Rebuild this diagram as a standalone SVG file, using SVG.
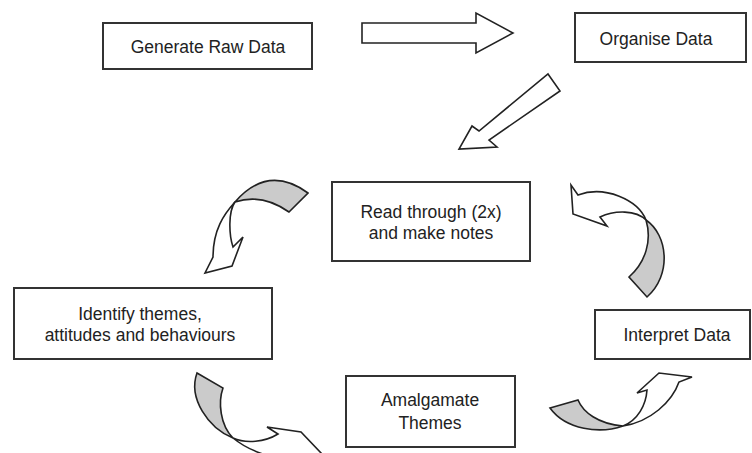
<svg xmlns="http://www.w3.org/2000/svg" width="752" height="453" viewBox="0 0 752 453">
<style>
.box{fill:#fff;stroke:#333;stroke-width:2}
.lbl{font-family:"Liberation Sans",Arial,sans-serif;font-size:17.5px;fill:#222;text-anchor:middle}
.arw{fill:#fff;stroke:#222;stroke-width:1.6;stroke-linejoin:miter}
.back{fill:#cbcbcb;stroke:#222;stroke-width:1.6;stroke-linejoin:miter}
</style>
<rect width="752" height="453" fill="#fff"/>
<g id="n-generate"><rect class="box" x="103" y="23" width="209" height="46"/><text class="lbl" x="208" y="53">Generate Raw Data</text></g>
<g id="n-organise"><rect class="box" x="575" y="13" width="171" height="49"/><text class="lbl" x="656" y="45">Organise Data</text></g>
<g id="n-read"><rect class="box" x="332" y="182" width="198" height="79"/><text class="lbl" x="431" y="218">Read through (2x)</text><text class="lbl" x="431" y="239">and make notes</text></g>
<g id="n-identify"><rect class="box" x="14" y="288" width="258" height="71"/><text class="lbl" x="140" y="320">Identify themes,</text><text class="lbl" x="140" y="341">attitudes and behaviours</text></g>
<g id="n-interpret"><rect class="box" x="595" y="310" width="155" height="49"/><text class="lbl" x="677" y="341">Interpret Data</text></g>
<g id="n-amalgamate"><rect class="box" x="346" y="376" width="169" height="71"/><text class="lbl" x="430" y="406">Amalgamate</text><text class="lbl" x="430" y="429">Themes</text></g>
<g id="connectors">
<polygon class="arw" points="362,23 476,23 476,13 513,33 476,53 476,43 362,43"/>
<polygon class="arw" points="548,74 560,91 489,140 497,147 459,149 472,126 479,131"/>
<path class="back" d="M235,202 Q268,164 308,193 L289,212 Q262,193 235,202 Z"/>
<path class="arw" d="M235,202 C224,214 213,230 213,257 L205,273 L232,266 L243,237 L233,247 C229,235 228,212 235,202 Z"/>
<path class="back" d="M646,220 C668,235 672,275 647,297 L629,277 C646,262 652,240 646,220 Z"/>
<path class="arw" d="M646,220 C638,200 605,185 578,195 L571,185 L573,214 L607,226 L600,217 C615,210 636,210 646,220 Z"/>
<path class="back" d="M197,373 L223,388 C218,402 220,425 233,438 C208,428 188,398 197,373 Z"/>
<path class="arw" d="M233,438 C246,444 265,442 278,434 L267,427 L301,432 L322,454 L306,466 L300,459 C280,462 250,452 233,438 Z"/>
<path class="back" d="M550,408 L578,400 C583,412 598,424 623,426 C600,434 566,430 550,408 Z"/>
<path class="arw" d="M623,426 C638,420 646,405 647,390 L637,393 L659,373 L692,377 L679,382 C672,402 650,422 623,426 Z"/>
</g>
</svg>
